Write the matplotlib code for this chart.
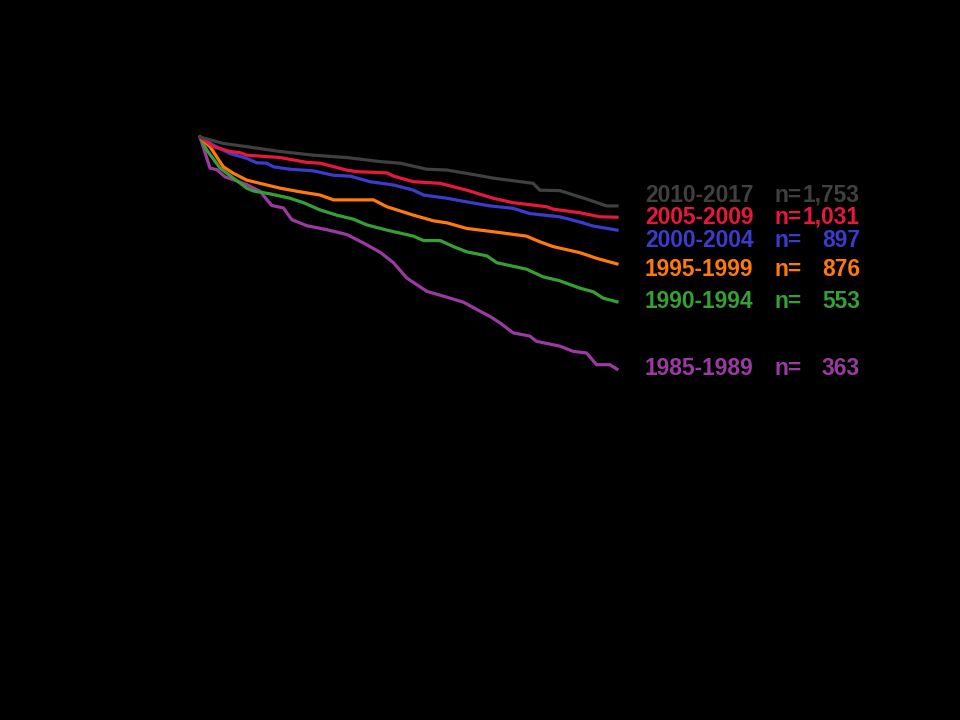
import matplotlib
matplotlib.use("Agg")
import matplotlib.pyplot as plt

# Era labels, patient counts and colours
eras = ["2010-2017", "2005-2009", "2000-2004", "1995-1999", "1990-1994", "1985-1989"]
counts = ["1,753", "1,031", "897", "876", "553", "363"]
colors = ["#404040", "#e8173c", "#3b3bcc", "#ff7a0a", "#35a035", "#9b3aa3"]

# Survival curves (years, % surviving)
x_2010 = [0, 0.56, 1.12, 1.92, 2.71, 3.52, 4.32, 4.80, 5.44, 5.92, 6.55, 7.03, 7.99, 8.15, 8.63, 9.27, 9.75, 10]
y_2010 = [100, 98.4, 97.6, 96.4, 95.5, 94.9, 93.9, 93.5, 92.0, 91.8, 90.7, 89.8, 88.5, 86.8, 86.7, 84.6, 82.9, 82.9]

x_2005 = [0, 0.32, 0.72, 0.96, 1.12, 1.92, 2.56, 2.88, 3.52, 3.76, 4.48, 4.64, 5.12, 5.76, 6.40, 7.03, 7.51, 8.31, 8.47, 9.11, 9.59, 10]
y_2005 = [100, 97.6, 96.4, 96.1, 95.5, 94.9, 93.7, 93.5, 91.8, 91.4, 91.1, 90.3, 88.9, 88.5, 86.8, 84.8, 83.7, 82.7, 82.1, 81.2, 80.2, 80.1]

x_2000 = [0, 0.32, 0.72, 1.12, 1.36, 1.60, 1.76, 2.16, 2.72, 3.20, 3.60, 4.08, 4.64, 5.12, 5.36, 5.92, 6.40, 6.95, 7.51, 7.91, 8.63, 9.11, 9.43, 10]
y_2000 = [100, 98.0, 95.9, 94.7, 93.6, 93.5, 92.6, 92.0, 91.6, 90.5, 90.3, 88.9, 88.1, 86.8, 85.6, 84.8, 83.9, 82.9, 82.3, 81.0, 80.2, 78.9, 77.9, 76.9]

x_1995 = [0, 0.24, 0.56, 0.80, 1.12, 1.36, 1.92, 2.40, 2.88, 3.20, 4.16, 4.48, 5.12, 5.60, 5.92, 6.40, 7.03, 7.83, 8.15, 8.47, 9.11, 9.51, 10]
y_1995 = [100, 97.6, 92.6, 91.0, 89.3, 88.7, 87.3, 86.4, 85.6, 84.4, 84.4, 82.7, 80.6, 79.2, 78.7, 77.3, 76.5, 75.4, 74.0, 72.8, 71.3, 69.9, 68.5]

x_1990 = [0, 0.16, 0.48, 0.80, 1.12, 1.28, 1.68, 2.16, 2.48, 2.88, 3.28, 3.68, 4.00, 4.48, 5.12, 5.36, 5.76, 6.08, 6.40, 6.88, 7.12, 7.83, 8.23, 8.63, 9.11, 9.43, 9.67, 10]
y_1990 = [100, 96.8, 92.3, 89.8, 87.3, 86.6, 85.9, 84.8, 83.7, 81.9, 80.6, 79.6, 78.2, 76.9, 75.4, 74.3, 74.3, 72.8, 71.5, 70.5, 68.8, 67.2, 65.3, 64.3, 62.5, 61.6, 60.0, 59.1]

x_1985 = [0, 0.24, 0.40, 0.60, 0.80, 1.12, 1.44, 1.72, 2.00, 2.20, 2.56, 3.04, 3.52, 3.92, 4.32, 4.64, 4.96, 5.44, 5.84, 6.32, 6.71, 6.95, 7.19, 7.51, 7.91, 8.07, 8.63, 8.95, 9.27, 9.51, 9.83, 10]
y_1985 = [100, 92.3, 91.9, 90.1, 89.4, 88.2, 86.5, 83.0, 82.4, 79.5, 78.0, 77.0, 75.8, 73.7, 71.4, 68.8, 65.0, 61.7, 60.5, 59.0, 56.8, 55.5, 53.9, 51.4, 50.6, 49.3, 48.1, 46.8, 46.4, 43.5, 43.5, 42.4]

series = [(x_2010, y_2010), (x_2005, y_2005), (x_2000, y_2000),
          (x_1995, y_1995), (x_1990, y_1990), (x_1985, y_1985)]

W, H = 960, 720
fig = plt.figure(figsize=(9.6, 7.2), dpi=100, facecolor="black")
ax = fig.add_axes([200 / W, 1 - 540 / H, 417 / W, 403 / H])
ax.set_facecolor("black")
ax.set_xlim(0, 10)
ax.set_ylim(0, 100)
ax.axis("off")

# draw from bottom (oldest) to top
for (xs, ys), c in reversed(list(zip(series, colors))):
    ax.plot(xs, ys, color=c, lw=2.3, clip_on=False, solid_joinstyle="miter")

label_y = [195, 217, 241, 270, 301, 369]
font = dict(family=["Liberation Sans", "DejaVu Sans"], fontsize=16.4, fontweight="bold", va="center")
for era, n, c, yp in zip(eras, counts, colors, label_y):
    fig.text(645 / W, 1 - yp / H, era, color=c, ha="left", **font)
    fig.text(775 / W, 1 - yp / H, "n=", color=c, ha="left", **font)
    fig.text(860 / W, 1 - yp / H, n, color=c, ha="right", **font)

fig.savefig("out.png", dpi=100, facecolor="black")
